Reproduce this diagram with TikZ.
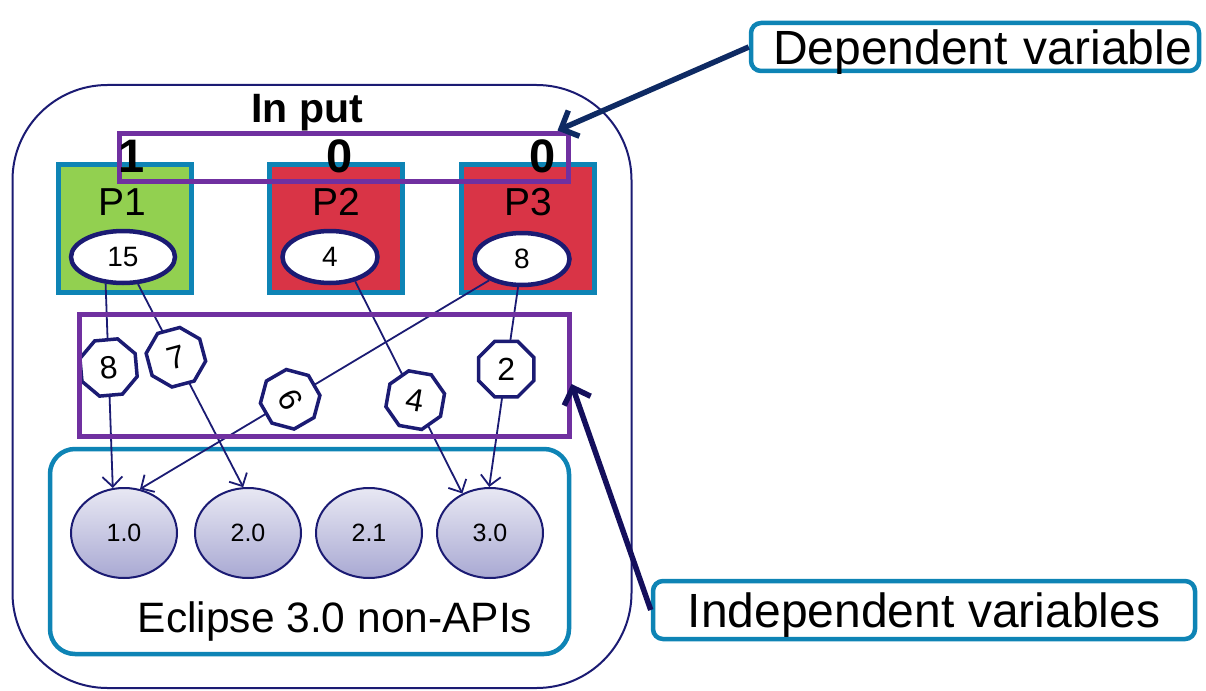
\documentclass[tikz,border=0pt]{standalone}
\usepackage{fontspec}
\setmainfont{Liberation Sans}
\usetikzlibrary{shapes.geometric,arrows.meta}

\definecolor{boxteal}{HTML}{0E84B5}
\definecolor{inknavy}{HTML}{1B1B73}
\definecolor{deparrow}{HTML}{0E2A63}
\definecolor{indarrow}{HTML}{140F5C}
\definecolor{selpurple}{HTML}{7030A0}
\definecolor{okgreen}{HTML}{92D050}
\definecolor{badred}{HTML}{D93446}
\definecolor{vtop}{HTML}{E8E8F3}
\definecolor{vbot}{HTML}{A9A9D3}

\newcommand\fsz[1]{\fontsize{#1}{#1}\selectfont}

\begin{document}
\begin{tikzpicture}[x=1pt,y=-1pt,
  pbox/.style={draw=boxteal, line width=5pt, minimum width=133pt, minimum height=128pt, inner sep=0pt},
  tag/.style={ellipse, draw=inknavy, line width=4.5pt, fill=white, minimum width=102pt, minimum height=52pt, inner sep=0pt, font=\fsz{28}},
  count/.style={regular polygon, regular polygon sides=8, draw=inknavy, line width=3.5pt, fill=white, minimum size=60pt, inner sep=0pt, font=\fsz{32}},
  version/.style={ellipse, draw=inknavy, line width=2pt, top color=vtop, bottom color=vbot, minimum width=106pt, minimum height=90pt, inner sep=0pt, font=\fsz{25}},
  link/.style={draw=inknavy, line width=1.8pt, -{Straight Barb[length=10pt,width=20pt]}},
  selbox/.style={draw=selpurple, line width=5pt, inner sep=0pt},
  callout/.style={draw=boxteal, line width=4.5pt, rounded corners=10pt, fill=white, inner sep=0pt, font=\fsz{48}},
  pointer/.style={line width=5.5pt, -{Straight Barb[length=14pt,width=28pt]}},
  bigtext/.style={font=\fsz{#1}, inner sep=0pt, anchor=base}
]
\useasboundingbox (0,0) rectangle (1206,690);

% enclosing frame and the Eclipse group
\node[draw=inknavy, line width=2pt, rounded corners=95pt, fill=white,
      minimum width=619pt, minimum height=603pt] (frame) at (322,386.5) {};
\node[draw=boxteal, line width=4.5pt, rounded corners=25pt,
      minimum width=519pt, minimum height=205pt] (eclbox) at (309.5,551.5) {};
\node[bigtext=42.5] (ecllabel) at (335,632) {Eclipse 3.0 non-APIs};

% plug-ins
\node[pbox, fill=okgreen] (p1) at (124.5,228) {};
\node[pbox, fill=badred]  (p2) at (335.5,228) {};
\node[pbox, fill=badred]  (p3) at (528,228) {};
\node[bigtext=39] (p1l) at (122,215) {P1};
\node[bigtext=39] (p2l) at (336,215) {P2};
\node[bigtext=39] (p3l) at (528,215) {P3};

\node[tag, minimum width=104pt] (e15) at (123,257) {15};
\node[tag, minimum width=95pt]  (e4)  at (330,257) {4};
\node[tag, minimum width=95pt]  (e8)  at (522,259) {8};

% Eclipse versions
\node[version] (c10) at (124,533) {1.0};
\node[version] (c20) at (248,533) {2.0};
\node[version] (c21) at (369,533) {2.1};
\node[version] (c30) at (490,533) {3.0};

% usage links with their counts
\draw[link] (e15.237) -- node[count, pos=0.41, rotate=5]   (n8) {8} (c10.104);
\draw[link] (e15.299) -- node[count, pos=0.36, rotate=15]  (n7) {7} (c20.96);
\draw[link] (e8.213)  -- node[count, pos=0.57, rotate=-60] (n6) {6} (c10.70);
\draw[link] (e4.316)  -- node[count, pos=0.56, rotate=-10] (n4) {4} (c30.125);
\draw[link] (e8.262)  -- node[count, pos=0.41]             (n2) {2} (c30.91);

% selections
\node[selbox, minimum width=449pt, minimum height=48pt]  (inbox)  at (343.5,157) {};
\node[selbox, minimum width=490pt, minimum height=122pt] (indbox) at (324,375) {};

\node[bigtext=41] (inlabel) at (307,122) {\bfseries In put};
\node[bigtext=47] (d1) at (132,172) {\bfseries 1};
\node[bigtext=47] (d2) at (340,172) {\bfseries 0};
\node[bigtext=47] (d3) at (543,172) {\bfseries 0};

% callouts
\node[callout, minimum height=48pt, text width=434pt, inner xsep=7pt, align=right,
      text depth=0pt] (dep) at (975,47) {Dependent variable};
\node[callout, minimum width=542pt, minimum height=58pt, text depth=0pt]
      (indep) at (924,610) {Independent variables};

\coordinate (deptip) at ([xshift=-13pt]inbox.north east);
\coordinate (indtip) at ([yshift=-9pt]indbox.east);
\draw[pointer, draw=deparrow] (dep.west) -- (deptip);
\draw[pointer, draw=indarrow] (indep.west) -- (indtip);
\end{tikzpicture}
\end{document}
